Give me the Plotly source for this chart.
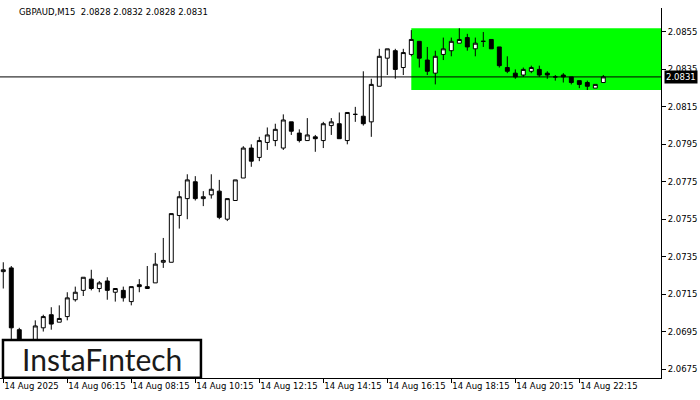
import pandas as pd
import plotly.graph_objects as go

# ---- data (GBPAUD M15, 14 Aug 2025) ----
start_time = "2025-08-14 04:15"
opens = [2.0727, 2.0729, 2.0696, 2.0685, 2.0686, 2.0697, 2.0704, 2.0700, 2.0703, 2.0712,
         2.0717, 2.0723, 2.0718, 2.0722, 2.0716, 2.0717, 2.0711, 2.0720, 2.0718, 2.0721,
         2.0732, 2.0732, 2.0757, 2.0766, 2.0775, 2.0766, 2.0768, 2.0770, 2.0755, 2.0765,
         2.0777, 2.0793, 2.0788, 2.0796, 2.0797, 2.0793, 2.0807, 2.0801, 2.0797, 2.0799,
         2.0797, 2.0805, 2.0806, 2.0797, 2.0811, 2.0810, 2.0807, 2.0826, 2.0841, 2.0845,
         2.0836, 2.0843, 2.0850, 2.0840, 2.0833, 2.0843, 2.0845, 2.0849, 2.0852, 2.0846,
         2.0850, 2.0851, 2.0847, 2.0836, 2.0833, 2.0832, 2.0834, 2.0835, 2.0833, 2.0831,
         2.0832, 2.0831, 2.0829, 2.0828, 2.0825, 2.0828]
highs = [2.0732, 2.0730, 2.0697, 2.0690, 2.0701, 2.0704, 2.0708, 2.0709, 2.0716, 2.0719,
         2.0724, 2.0728, 2.0722, 2.0724, 2.0718, 2.0719, 2.0719, 2.0723, 2.0730, 2.0737,
         2.0745, 2.0758, 2.0770, 2.0779, 2.0778, 2.0770, 2.0779, 2.0776, 2.0766, 2.0776,
         2.0794, 2.0795, 2.0799, 2.0804, 2.0806, 2.0811, 2.0807, 2.0803, 2.0809, 2.0800,
         2.0807, 2.0809, 2.0812, 2.0812, 2.0815, 2.0834, 2.0830, 2.0846, 2.0846, 2.0846,
         2.0846, 2.0856, 2.0850, 2.0847, 2.0845, 2.0852, 2.0852, 2.0857, 2.0854, 2.0852,
         2.0855, 2.0851, 2.0847, 2.0842, 2.0835, 2.0836, 2.0837, 2.0837, 2.0834, 2.0832,
         2.0833, 2.0831, 2.0829, 2.0829, 2.0827, 2.0832]
lows = [2.0718, 2.0688, 2.0680, 2.0682, 2.0684, 2.0695, 2.0696, 2.0700, 2.0701, 2.0711,
        2.0714, 2.0717, 2.0716, 2.0712, 2.0711, 2.0711, 2.0709, 2.0716, 2.0718, 2.0721,
        2.0729, 2.0732, 2.0750, 2.0755, 2.0765, 2.0762, 2.0766, 2.0755, 2.0754, 2.0765,
        2.0777, 2.0783, 2.0786, 2.0792, 2.0794, 2.0792, 2.0800, 2.0796, 2.0797, 2.0791,
        2.0793, 2.0800, 2.0798, 2.0795, 2.0807, 2.0805, 2.0799, 2.0826, 2.0832, 2.0830,
        2.0832, 2.0842, 2.0836, 2.0832, 2.0827, 2.0840, 2.0842, 2.0849, 2.0845, 2.0842,
        2.0847, 2.0846, 2.0836, 2.0833, 2.0830, 2.0831, 2.0833, 2.0831, 2.0830, 2.0829,
        2.0828, 2.0827, 2.0825, 2.0824, 2.0825, 2.0828]
closes = [2.0728, 2.0697, 2.0684, 2.0688, 2.0698, 2.0703, 2.0699, 2.0702, 2.0713, 2.0716,
          2.0724, 2.0718, 2.0721, 2.0717, 2.0718, 2.0713, 2.0719, 2.0719, 2.0719, 2.0731,
          2.0733, 2.0758, 2.0767, 2.0776, 2.0766, 2.0767, 2.0771, 2.0756, 2.0766, 2.0776,
          2.0793, 2.0786, 2.0797, 2.0800, 2.0803, 2.0808, 2.0802, 2.0797, 2.0800, 2.0798,
          2.0806, 2.0807, 2.0798, 2.0812, 2.0811, 2.0806, 2.0827, 2.0842, 2.0846, 2.0835,
          2.0844, 2.0851, 2.0841, 2.0834, 2.0842, 2.0846, 2.0850, 2.0851, 2.0847, 2.0849,
          2.0850, 2.0846, 2.0837, 2.0834, 2.0831, 2.0835, 2.0836, 2.0832, 2.0832, 2.0831,
          2.0831, 2.0828, 2.0827, 2.0826, 2.0827, 2.0831]

tick_times = ["2025-08-14 04:15", "2025-08-14 06:15", "2025-08-14 08:15", "2025-08-14 10:15",
              "2025-08-14 12:15", "2025-08-14 14:15", "2025-08-14 16:15", "2025-08-14 18:15",
              "2025-08-14 20:15", "2025-08-14 22:15"]
tick_labels = ["14 Aug 2025", "14 Aug 06:15", "14 Aug 08:15", "14 Aug 10:15", "14 Aug 12:15",
               "14 Aug 14:15", "14 Aug 16:15", "14 Aug 18:15", "14 Aug 20:15", "14 Aug 22:15"]
y_ticks = [2.0675, 2.0695, 2.0715, 2.0735, 2.0755, 2.0775, 2.0795, 2.0815, 2.0835, 2.0855]

zone_start = "2025-08-14 17:00"
zone_low, zone_high = 2.0824, 2.0857
current_price = 2.0831
header = "GBPAUD,M15  2.0828 2.0832 2.0828 2.0831"

# ---- figure ----
times = pd.date_range(start_time, periods=len(opens), freq="15min")
step = pd.Timedelta(minutes=15)
x_lo = times[0] - 0.41 * step
x_hi = times[0] + 82.21 * step

FONT = "DejaVu Sans"

fig = go.Figure()
fig.add_trace(go.Candlestick(
    x=times, open=opens, high=highs, low=lows, close=closes,
    increasing=dict(fillcolor="white", line=dict(color="black", width=1)),
    decreasing=dict(fillcolor="black", line=dict(color="black", width=1)),
    whiskerwidth=0, hoverinfo="skip", showlegend=False,
))

fig.add_shape(type="rect", xref="x", yref="y", x0=zone_start, x1=x_hi,
              y0=zone_low, y1=zone_high, fillcolor="#00FF00", line_width=0, layer="below")
fig.add_shape(type="line", xref="paper", yref="y", x0=0, x1=1,
              y0=current_price, y1=current_price, line=dict(color="black", width=1), layer="above")

# logo box
fig.add_shape(type="rect", xref="paper", yref="paper", x0=0.0045, x1=0.304, y0=0.001, y1=0.1027,
              fillcolor="white", line=dict(color="black", width=2.5), layer="above")
fig.add_annotation(xref="paper", yref="paper", x=0.154, y=0.052, text="InstaFıntech",
                   showarrow=False, xanchor="center", yanchor="middle",
                   font=dict(family="Lato", size=30, color="#1a1a1a"))

fig.add_annotation(xref="paper", yref="paper", x=17 / 661, y=0.989, text=header,
                   showarrow=False, xanchor="left", yanchor="middle",
                   font=dict(family=FONT, size=8.5, color="black"))

fig.add_annotation(xref="paper", yref="y", x=1, y=current_price, text=f"{current_price:.4f}",
                   showarrow=False, xanchor="left", yanchor="middle", xshift=3,
                   bgcolor="black", borderpad=1,
                   font=dict(family=FONT, size=8.5, color="white"))

fig.update_layout(
    width=700, height=400,
    margin=dict(l=0, r=39, t=8, b=22, autoexpand=False),
    paper_bgcolor="white", plot_bgcolor="white",
    showlegend=False,
    xaxis=dict(
        range=[x_lo, x_hi], rangeslider=dict(visible=False),
        tickvals=tick_times, ticktext=tick_labels, tickangle=0,
        ticks="outside", ticklen=4, tickcolor="black",
        ticklabelposition="outside right",
        showline=True, linecolor="black", linewidth=1,
        showgrid=False, zeroline=False, automargin=False,
        tickfont=dict(family=FONT, size=8.5, color="black"),
    ),
    yaxis=dict(
        side="right", range=[2.06702, 2.08678],
        tickvals=y_ticks, tickformat=".4f",
        ticks="outside", ticklen=4, tickcolor="black",
        showline=True, linecolor="black", linewidth=1,
        showgrid=False, zeroline=False, automargin=False,
        tickfont=dict(family=FONT, size=8.5, color="black"),
    ),
)

fig.write_html("out.html", config={"displayModeBar": False},
               post_script="document.body.style.margin='0';")
